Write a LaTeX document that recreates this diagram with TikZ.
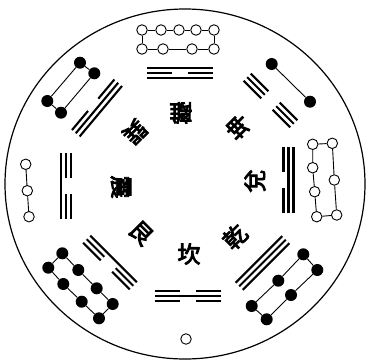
\documentclass[tikz,border=0pt]{standalone}
\usepackage{fontspec}
\newfontfamily\cjk{Noto Sans CJK TC}[FakeBold=4]
\tikzset{
  yao/.style={line width=2.1pt},
  wd/.style={circle, draw, line width=0.9pt, fill=white, minimum size=10.5pt, inner sep=0pt},
  bd/.style={circle, fill=black, minimum size=12pt, inner sep=0pt},
  conn/.style={line width=0.9pt},
  gua/.style={font=\cjk\fontsize{23}{23}\selectfont, inner sep=0pt},
}
\newcommand\yaoline[2]{%
  \ifnum#2=1 \draw[yao] (-33,#1) -- (33,#1);%
  \else \draw[yao] (-33,#1) -- (-8,#1) (8,#1) -- (33,#1);\fi}
\newcommand\trigram[6]{%
  \begin{scope}[shift={(#1,#2)}, rotate=#3]
    \yaoline{-5}{#4}\yaoline{0}{#5}\yaoline{5}{#6}
  \end{scope}}
\begin{document}
\begin{tikzpicture}[x=1pt,y=-1pt]
\useasboundingbox (0,0) rectangle (372,362);
\draw[line width=1.2pt] (185,184) ellipse [x radius=180, y radius=175];

% trigrams: x, y, rotation, outer, middle, inner
\trigram{180}{73.3}{0}{1}{0}{1}      % Li
\trigram{270.5}{100.5}{-45}{0}{0}{0} % Kun
\trigram{288.5}{180}{-90}{1}{1}{0}   % Dui
\trigram{262.5}{263}{-135}{1}{1}{1}  % Qian
\trigram{188}{296}{180}{0}{1}{0}     % Kan
\trigram{110}{262.5}{135}{0}{0}{1}   % Gen
\trigram{66}{186}{90}{1}{0}{0}       % Zhen
\trigram{97}{108}{50}{0}{1}{1}       % Xun

% characters
\node[gua, rotate=180] (cLi) at (181,113) {離};
\node[gua, rotate=135] (cKun) at (238,127) {坤};
\node[gua, rotate=90] (cDui) at (255,181) {兌};
\node[gua, rotate=45] (cQian) at (235,237) {乾};
\node[gua, rotate=0] (cKan) at (189,254) {坎};
\node[gua, rotate=-45] (cGen) at (141,233) {艮};
\node[gua, rotate=-90] (cZhen) at (121,187) {震};
\node[gua, rotate=-135] (cXun) at (135,132) {巽};

% top: nine white
\node[wd] (n1) at (142,30) {};
\node[wd] (n2) at (161,30) {};
\node[wd] (n3) at (179,30) {};
\node[wd] (n4) at (196,30) {};
\node[wd] (n5) at (214,30) {};
\node[wd] (n6) at (142,49) {};
\node[wd] (n7) at (163,49) {};
\node[wd] (n8) at (192,49) {};
\node[wd] (n9) at (214,49) {};
\draw[conn] (n1) -- (n2) (n2) -- (n3) (n3) -- (n4) (n4) -- (n5)
            (n6) -- (n7) (n7) -- (n8) (n8) -- (n9)
            (n1) -- (n6) (n5) -- (n9);

% right: seven white
\node[wd] (r1) at (312.7,144.3) {};
\node[wd] (r2) at (332.3,143.3) {};
\node[wd] (r3) at (312.7,167.7) {};
\node[wd] (r4) at (334.3,180) {};
\node[wd] (r5) at (314.7,191.7) {};
\node[wd] (r6) at (316.7,216.7) {};
\node[wd] (r7) at (336.7,215) {};
\draw[conn] (r1) -- (r2) (r1) -- (r3) (r3) -- (r5) (r5) -- (r6)
            (r2) -- (r4) (r4) -- (r7) (r6) -- (r7);

% left: three white
\node[wd] (l1) at (25.7,164.3) {};
\node[wd] (l2) at (27.3,190.7) {};
\node[wd] (l3) at (29,216.7) {};
\draw[conn] (l1) -- (l2) (l2) -- (l3);

% bottom: one white
\node[wd] (b1) at (186,339) {};

% top-left: four black
\node[bd] (x1) at (80,62.7) {};
\node[bd] (x2) at (94.3,73.3) {};
\node[bd] (x3) at (47.3,101) {};
\node[bd] (x4) at (61,112.7) {};
\draw[conn] (x1) -- (x2) (x1) -- (x3) (x2) -- (x4) (x3) -- (x4);

% top-right: two black
\node[bd] (k1) at (271.7,64) {};
\node[bd] (k2) at (310,101.7) {};
\draw[conn] (k1) -- (k2);

% bottom-left: eight black
\node[bd] (g1) at (62.3,253.3) {};
\node[bd] (g2) at (78.3,270) {};
\node[bd] (g3) at (96.7,288.3) {};
\node[bd] (g4) at (112.7,304) {};
\node[bd] (g5) at (48.3,267.7) {};
\node[bd] (g6) at (63.3,284) {};
\node[bd] (g7) at (81.7,301.7) {};
\node[bd] (g8) at (99,318.3) {};
\draw[conn] (g1) -- (g5) (g1) -- (g2) (g2) -- (g3) (g3) -- (g4)
            (g5) -- (g6) (g6) -- (g7) (g7) -- (g8) (g4) -- (g8);

% bottom-right: six black
\node[bd] (q1) at (303.3,254.3) {};
\node[bd] (q2) at (278.3,280.7) {};
\node[bd] (q3) at (251.7,306) {};
\node[bd] (q4) at (317.3,270) {};
\node[bd] (q5) at (291,295) {};
\node[bd] (q6) at (266.7,319.3) {};
\draw[conn] (q1) -- (q4) (q1) -- (q2) (q2) -- (q3)
            (q4) -- (q5) (q5) -- (q6) (q3) -- (q6);
\end{tikzpicture}
\end{document}
